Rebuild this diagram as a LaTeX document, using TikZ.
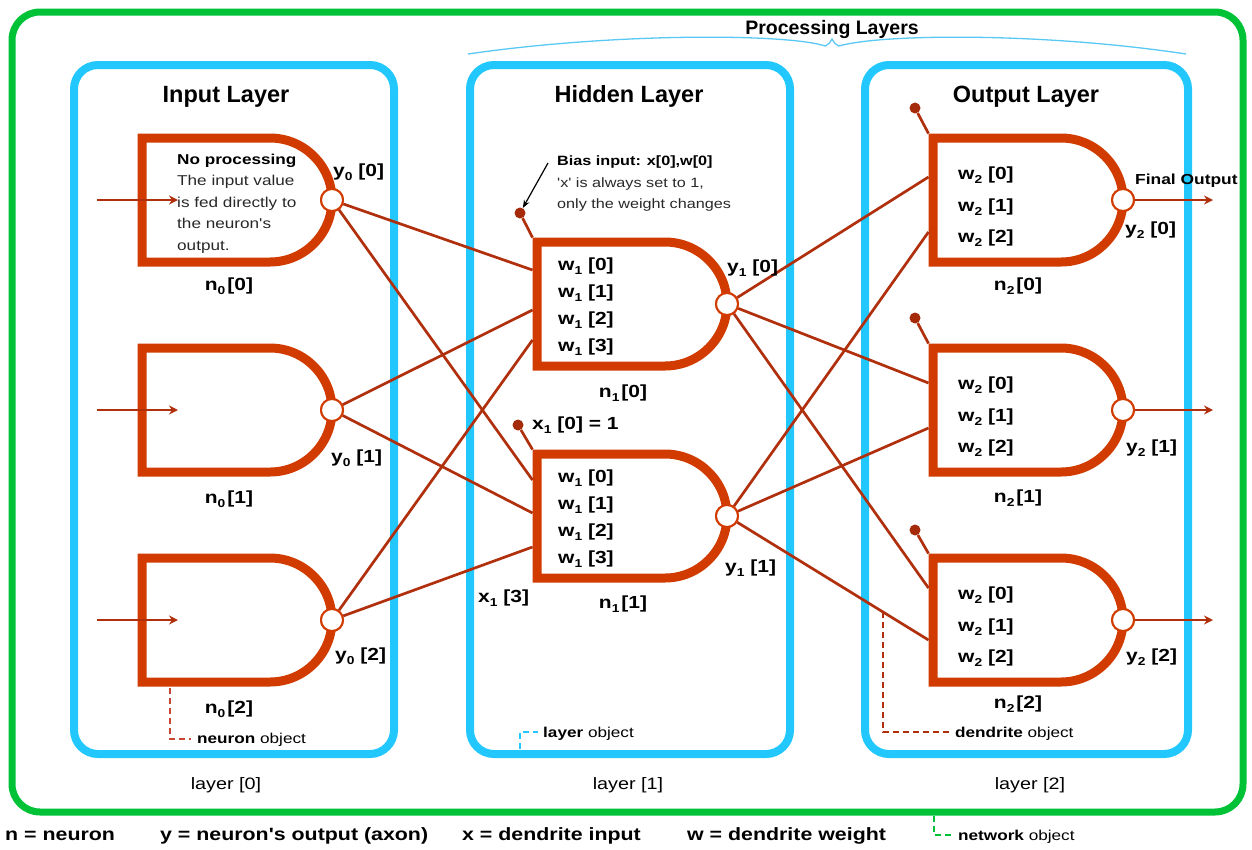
\documentclass[tikz,border=0pt]{standalone}
\usepackage{fontspec}
\setmainfont{Liberation Sans}[Ligatures=TeXOff]
\newfontfamily\widesans{Liberation Sans}[Ligatures=TeXOff,FakeStretch=1.2]
\usetikzlibrary{arrows.meta}

\definecolor{neuronc}{RGB}{209,59,0}
\definecolor{wirec}{RGB}{176,48,14}
\definecolor{dotc}{RGB}{165,42,10}
\definecolor{bluec}{RGB}{34,199,253}
\definecolor{bracec}{RGB}{90,200,245}
\definecolor{greenc}{RGB}{0,194,54}
\definecolor{notec}{RGB}{40,40,40}
\definecolor{dashred}{RGB}{200,70,50}

% lowered subscript index used in the labels
\newcommand\idx[1]{\raisebox{-4pt}{\fontsize{11.5}{11.5}\selectfont#1}}

\begin{document}
\begin{tikzpicture}[x=1pt,y=-1pt,
  neuronline/.style={draw=neuronc,line width=9pt,line join=miter},
  axon/.style={circle,draw=neuronc,line width=2pt,fill=white,minimum size=22pt,inner sep=0pt},
  wire/.style={draw=wirec,line width=2.7pt},
  arrowtip/.style={-{Stealth[length=9pt,width=9pt,inset=3pt]}},
  biasdot/.style={circle,fill=dotc,minimum size=11pt,inner sep=0pt},
  layerbox/.style={draw=bluec,line width=8pt,rounded corners=24pt},
  netbox/.style={draw=greenc,line width=7pt,rounded corners=28pt},
  bracestyle/.style={draw=bracec,line width=1.3pt},
  title/.style={font=\fontsize{23.5}{28}\selectfont\bfseries,anchor=base,inner sep=0pt},
  toptitle/.style={font=\fontsize{19.5}{24}\selectfont\bfseries,anchor=base,inner sep=0pt},
  layername/.style={font=\widesans\fontsize{16.5}{20}\selectfont,anchor=base,inner sep=0pt},
  lbl/.style={font=\widesans\fontsize{17.5}{20}\selectfont\bfseries,anchor=base west,inner sep=0pt},
  nlbl/.style={font=\widesans\fontsize{17.5}{20}\selectfont\bfseries,anchor=base,inner sep=0pt},
  note/.style={font=\widesans\fontsize{14.3}{18}\selectfont,text=notec,anchor=base west,inner sep=0pt},
  notehead/.style={font=\widesans\fontsize{14.3}{18}\selectfont\bfseries,anchor=base west,inner sep=0pt},
  biasnote/.style={font=\widesans\fontsize{13.5}{17}\selectfont,text=notec,anchor=base west,inner sep=0pt},
  biashead/.style={font=\widesans\fontsize{13.5}{17}\selectfont\bfseries,anchor=base west,inner sep=0pt},
  finalhead/.style={font=\widesans\fontsize{14.5}{18}\selectfont\bfseries,anchor=base west,inner sep=0pt},
  objnote/.style={font=\widesans\fontsize{14.3}{18}\selectfont,anchor=base west,inner sep=0pt},
  legend/.style={font=\widesans\fontsize{17.8}{21}\selectfont\bfseries,anchor=base west,inner sep=0pt},
  objdash/.style={line width=1.3pt,dash pattern=on 6pt off 4pt},
  neuron/.pic={
    \draw[neuronline] (128,-62) -- (0,-62) -- (0,62) -- (128,62)
      .. controls (162.2,62) and (190,34.2) .. (190,0)
      .. controls (190,-34.2) and (162.2,-62) .. (128,-62) -- cycle;
    \coordinate (-nw) at (-4.5,-66.5);
    \coordinate (-w) at (-4.5,0);
    \node[axon] (-out) at (190,0) {};
  }
]
\useasboundingbox (0,0) rectangle (1252,849);

% network frame and the three layers
\draw[netbox] (12,12) rectangle (1243,812);
\draw[layerbox] (74,65) rectangle (394,754);
\draw[layerbox] (470,65) rectangle (790,754);
\draw[layerbox] (865,65) rectangle (1188,754);

% brace over the processing layers
\draw[bracestyle] (468,54) .. controls (620,32) and (790,34) .. (825,46)
  .. controls (829,44) and (831,42) .. (832,39)
  .. controls (833,42) and (835,44) .. (839,46)
  .. controls (880,34) and (1040,32) .. (1186,54);
\node[toptitle] (proc) at (832,34) {Processing Layers};

% layer titles and names
\node[title] (t0) at (226,102) {Input Layer};
\node[title] (t1) at (629,102) {Hidden Layer};
\node[title] (t2) at (1026,102) {Output Layer};
\node[layername] (l0) at (226,789) {layer [0]};
\node[layername] (l1) at (628,789) {layer [1]};
\node[layername] (l2) at (1030,789) {layer [2]};

% neurons
\pic (i0) at (142,200) {neuron};
\pic (i1) at (142,410) {neuron};
\pic (i2) at (142,620) {neuron};
\pic (h0) at (537,304) {neuron};
\pic (h1) at (537,516) {neuron};
\pic (o0) at (933,200) {neuron};
\pic (o1) at (933,410) {neuron};
\pic (o2) at (933,620) {neuron};

% dendrite entry points
\coordinate (h0-d1) at (532.5,270);
\coordinate (h0-d2) at (532.5,310);
\coordinate (h0-d3) at (532.5,340);
\coordinate (h1-d1) at (532.5,480);
\coordinate (h1-d2) at (532.5,513);
\coordinate (h1-d3) at (532.5,547);
\coordinate (o0-d1) at (928.5,177);
\coordinate (o0-d2) at (928.5,232);
\coordinate (o1-d1) at (928.5,383);
\coordinate (o1-d2) at (928.5,428);
\coordinate (o2-d1) at (928.5,588);
\coordinate (o2-d2) at (928.5,640);

% input layer to hidden layer
\foreach \s/\k in {i0/1,i1/2,i2/3}{
  \draw[wire] (\s-out) -- (h0-d\k);
  \draw[wire] (\s-out) -- (h1-d\k);
}
% hidden layer to output layer
\foreach \s/\k in {h0/1,h1/2}{
  \draw[wire] (\s-out) -- (o0-d\k);
  \draw[wire] (\s-out) -- (o1-d\k);
  \draw[wire] (\s-out) -- (o2-d\k);
}

% bias inputs
\node[biasdot] (h0-b) at (520,213) {};
\node[biasdot] (h1-b) at (518,425) {};
\node[biasdot] (o0-b) at (915,108) {};
\node[biasdot] (o1-b) at (915,318) {};
\node[biasdot] (o2-b) at (915,530) {};
\foreach \n in {h0,h1,o0,o1,o2}{
  \draw[wire] (\n-b) -- (\n-nw);
}

% redraw the axon terminals above the wires
\foreach \n in {i0,i1,i2,h0,h1,o0,o1,o2}{
  \node[axon] at (\n-out) {};
}

% network inputs
\foreach \n in {i0,i1,i2}{
  \coordinate (\n-src) at ([xshift=-40.5pt]\n-w);
  \coordinate (\n-tip) at ([xshift=40.5pt]\n-w);
  \draw[wire,arrowtip] (\n-src) -- (\n-tip);
}
% network outputs
\foreach \n in {o0,o1,o2}{
  \coordinate (\n-end) at ([xshift=90pt]\n-out.center);
  \draw[wire,arrowtip] (\n-out) -- (\n-end);
}

% input layer labels
\node[notehead] (np1) at (177,164) {No processing};
\node[note] (np2) at (177,185.5) {The input value};
\node[note] (np3) at (177,207) {is fed directly to};
\node[note] (np4) at (177,228.5) {the neuron's};
\node[note] (np5) at (177,250) {output.};
\node[lbl] (y00) at (333,176) {y\idx{0} [0]};
\node[lbl] (y01) at (331,462) {y\idx{0} [1]};
\node[lbl] (y02) at (335,660) {y\idx{0} [2]};
\node[nlbl] (n00) at (229,290) {n\idx{0}\kern2pt[0]};
\node[nlbl] (n01) at (229,503) {n\idx{0}\kern2pt[1]};
\node[nlbl] (n02) at (229,713) {n\idx{0}\kern2pt[2]};

% hidden layer labels
\node[biashead] (bias1) at (557,165) {Bias input: x[0],w[0]};
\node[biasnote] (bias2) at (557,187) {'x' is always set to 1,};
\node[biasnote] (bias3) at (557,208) {only the weight changes};
\coordinate (biasarrow) at (548,163);
\draw[line width=1.2pt,-{Stealth[length=8pt,width=6pt]}] (biasarrow) -- (h0-b);
\foreach \n/\m in {h0/304,h1/516}{
  \node[lbl] (\n-w0) at (558,\m-34) {w\idx{1} [0]};
  \node[lbl] (\n-w1) at (558,\m-7) {w\idx{1} [1]};
  \node[lbl] (\n-w2) at (558,\m+20) {w\idx{1} [2]};
  \node[lbl] (\n-w3) at (558,\m+47) {w\idx{1} [3]};
}
\node[lbl] (y10) at (727,272) {y\idx{1} [0]};
\node[lbl] (y11) at (725,572) {y\idx{1} [1]};
\node[nlbl] (n10) at (623,397) {n\idx{1}\kern2pt[0]};
\node[nlbl] (n11) at (623,608) {n\idx{1}\kern2pt[1]};
\node[lbl] (x10) at (532,429) {x\idx{1} [0] = 1};
\node[lbl] (x13) at (478,602) {x\idx{1} [3]};

% output layer labels
\foreach \n/\m in {o0/200,o1/410,o2/620}{
  \node[lbl] (\n-w0) at (958,\m-21) {w\idx{2} [0]};
  \node[lbl] (\n-w1) at (958,\m+11) {w\idx{2} [1]};
  \node[lbl] (\n-w2) at (958,\m+42) {w\idx{2} [2]};
}
\node[finalhead] (final) at (1135,184) {Final Output};
\node[lbl] (y20) at (1125,234) {y\idx{2} [0]};
\node[lbl] (y21) at (1126,452) {y\idx{2} [1]};
\node[lbl] (y22) at (1126,661) {y\idx{2} [2]};
\node[nlbl] (n20) at (1018,290) {n\idx{2}\kern2pt[0]};
\node[nlbl] (n21) at (1018,502) {n\idx{2}\kern2pt[1]};
\node[nlbl] (n22) at (1018,708) {n\idx{2}\kern2pt[2]};

% object annotations
\node[objnote] (neuronobj) at (197,743) {\textbf{neuron} object};
\coordinate (neuronobj-a) at (170,688);
\coordinate (neuronobj-b) at (170,739);
\coordinate (neuronobj-c) at (191,739);
\draw[objdash,draw=dashred] (neuronobj-a) -- (neuronobj-b) -- (neuronobj-c);

\node[objnote] (layerobj) at (543,737) {\textbf{layer} object};
\coordinate (layerobj-a) at (520,749);
\coordinate (layerobj-b) at (520,732);
\coordinate (layerobj-c) at (538,732);
\draw[objdash,draw=bluec] (layerobj-a) -- (layerobj-b) -- (layerobj-c);

\node[objnote] (dendobj) at (955,737) {\textbf{dendrite} object};
\coordinate (dendobj-a) at (883,612);
\coordinate (dendobj-b) at (883,732);
\coordinate (dendobj-c) at (949,732);
\draw[objdash,draw=wirec] (dendobj-a) -- (dendobj-b) -- (dendobj-c);

\node[objnote] (netobj) at (958,840) {\textbf{network} object};
\coordinate (netobj-a) at (934,816);
\coordinate (netobj-b) at (934,835);
\coordinate (netobj-c) at (952,835);
\draw[objdash,draw=greenc] (netobj-a) -- (netobj-b) -- (netobj-c);

% legend
\node[legend] (lg1) at (5,840) {n = neuron};
\node[legend] (lg2) at (160,840) {y = neuron's output (axon)};
\node[legend] (lg3) at (462,840) {x = dendrite input};
\node[legend] (lg4) at (687,840) {w = dendrite weight};
\end{tikzpicture}
\end{document}
